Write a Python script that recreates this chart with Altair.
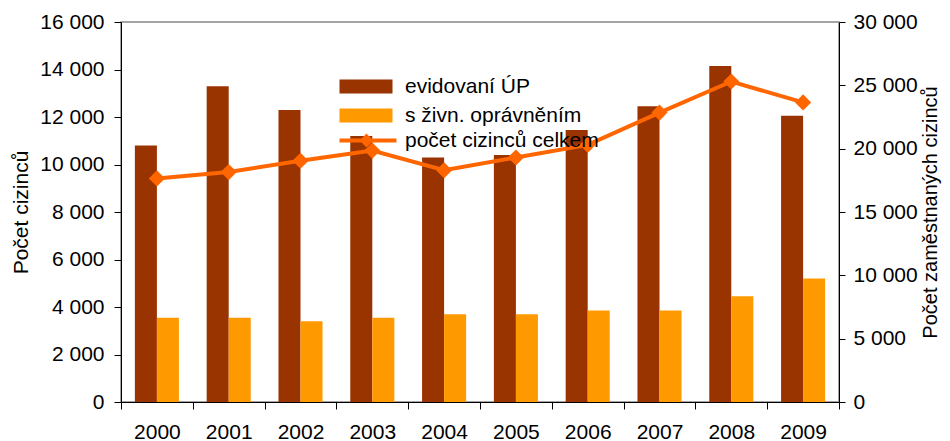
import altair as alt
import pandas as pd

years = ["2000", "2001", "2002", "2003", "2004", "2005", "2006", "2007", "2008", "2009"]
evidovani_up = [10800, 13300, 12300, 11200, 10300, 10400, 11450, 12450, 14150, 12050]
zivn_opravneni = [3550, 3550, 3400, 3550, 3700, 3700, 3850, 3850, 4450, 5200]
celkem = [17650, 18150, 19050, 19850, 18300, 19300, 20300, 22850, 25300, 23650]

S1 = "evidovaní ÚP"
S2 = "s živn. oprávněním"
S3 = "počet cizinců celkem"

bars_df = pd.DataFrame(
    [{"rok": y, "serie": S1, "hodnota": v} for y, v in zip(years, evidovani_up)]
    + [{"rok": y, "serie": S2, "hodnota": v} for y, v in zip(years, zivn_opravneni)]
)
line_df = pd.DataFrame({"rok": years, "serie": S3, "hodnota": celkem})

FONT = "Liberation Sans"
FS = 21
label_expr = "replace(format(datum.value, ','), ',', ' ')"

x_enc = alt.X(
    "rok:N",
    sort=years,
    scale=alt.Scale(paddingInner=0, paddingOuter=0),
    axis=alt.Axis(
        title=None, tickBand="extent", tickSize=7, labelPadding=12, labelAngle=0,
        domainColor="black", tickColor="black", labelColor="black",
        labelFont=FONT, labelFontSize=FS, grid=False,
    ),
)

bars = alt.Chart(bars_df).mark_bar().encode(
    x=x_enc,
    xOffset=alt.XOffset("serie:N", sort=[S1, S2],
                        scale=alt.Scale(paddingInner=0, paddingOuter=0.63)),
    y=alt.Y(
        "hodnota:Q",
        scale=alt.Scale(domain=[0, 16000], nice=False),
        axis=alt.Axis(
            title="Počet cizinců", values=list(range(0, 16001, 2000)),
            labelExpr=label_expr, orient="left", tickSize=7, labelPadding=10,
            titlePadding=8, titleFont=FONT, titleFontSize=FS, titleFontWeight="normal",
            titleColor="black", labelFont=FONT, labelFontSize=FS, labelColor="black",
            domainColor="black", tickColor="black", grid=False,
        ),
    ),
    color=alt.Color(
        "serie:N",
        sort=[S1, S2],
        scale=alt.Scale(domain=[S1, S2], range=["#993300", "#FF9900"]),
        legend=alt.Legend(
            title=None, orient="none", legendX=215, legendY=54,
            symbolType="M-1,-1H6.571V1H-1Z", symbolSize=196, symbolStrokeWidth=0,
            labelOffset=48, labelFont=FONT, labelFontSize=FS, labelColor="black",
            labelLimit=400, rowPadding=7,
        ),
    ),
)

line = alt.Chart(line_df).mark_line(strokeWidth=4).encode(
    x=alt.X("rok:N", sort=years),
    y=alt.Y(
        "hodnota:Q",
        scale=alt.Scale(domain=[0, 30000], nice=False),
        axis=alt.Axis(
            title="Počet zaměstnaných cizinců", values=list(range(0, 30001, 5000)),
            labelExpr=label_expr, orient="right", tickSize=6, labelPadding=8,
            titlePadding=23, titleAngle=270, titleFont=FONT, titleFontSize=20,
            titleFontWeight="normal", titleColor="black", labelFont=FONT,
            labelFontSize=FS, labelColor="black", domainColor="black",
            tickColor="black", grid=False,
        ),
    ),
    stroke=alt.Stroke(
        "serie:N",
        scale=alt.Scale(domain=[S3], range=["#FF6600"]),
        legend=alt.Legend(
            title=None, orient="none", legendX=215, legendY=108,
            symbolType="M-1,0H7.14M2.86,-0.6L3.46,0L2.86,0.6L2.26,0Z",
            symbolSize=196, symbolStrokeWidth=4, symbolFillColor="#FF6600",
            labelOffset=48, labelFont=FONT, labelFontSize=FS, labelColor="black",
            labelLimit=400,
        ),
    ),
)

points = alt.Chart(line_df).mark_point(
    shape="diamond", filled=True, size=260, color="#FF6600", opacity=1
).encode(
    x=alt.X("rok:N", sort=years),
    y=alt.Y("hodnota:Q", scale=alt.Scale(domain=[0, 30000], nice=False)),
)

chart = (
    alt.layer(bars, alt.layer(line, points))
    .resolve_scale(y="independent")
    .properties(
        width=718, height=380,
        autosize=alt.AutoSizeParams(type="none"),
        padding={"left": 113, "top": 14, "right": 103, "bottom": 50},
    )
    .configure(font=FONT)
    .configure_view(stroke="#888888", strokeWidth=1.5)
)

chart.save("out.html", embed_options={"renderer": "svg", "actions": False})
